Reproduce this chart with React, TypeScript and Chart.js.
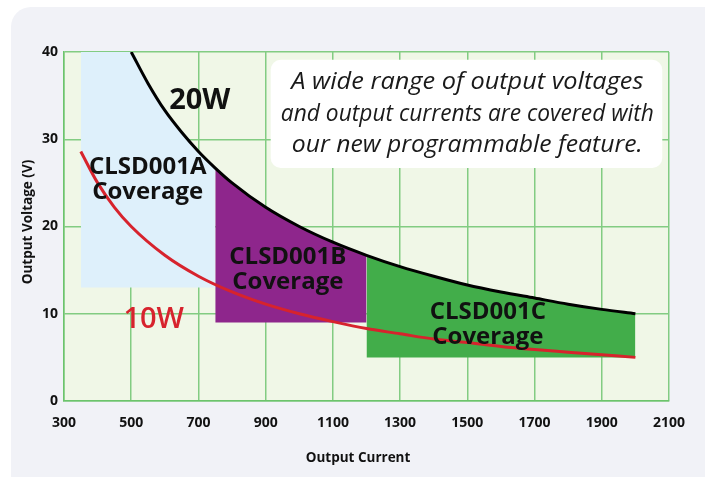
import React, { useEffect, useRef } from "react";
import { Chart, registerables } from "chart.js";

Chart.register(...registerables);

// Power curves (Output Current in mA, Output Voltage in V)
const current20W = [500, 550, 600, 650, 700, 750, 800, 900, 1000, 1100, 1200, 1300, 1400, 1500, 1600, 1700, 1800, 1900, 2000];
const voltage20W = [40, 36.4, 33.3, 30.8, 28.6, 26.7, 25, 22.2, 20, 18.2, 16.7, 15.4, 14.3, 13.3, 12.5, 11.8, 11.1, 10.5, 10];
const current10W = [350, 400, 450, 500, 600, 700, 800, 900, 1000, 1100, 1200, 1300, 1400, 1500, 1600, 1700, 1800, 1900, 2000];
const voltage10W = [28.6, 25, 22.2, 20, 16.7, 14.3, 12.5, 11.1, 10, 9.1, 8.3, 7.7, 7.1, 6.7, 6.25, 5.9, 5.6, 5.3, 5];

// Coverage regions
const coverageNames = ["CLSD001A", "CLSD001B", "CLSD001C"];
const coverageStart = [350, 750, 1200];
const coverageEnd = [750, 1200, 2000];
const coverageFloor = [13, 9, 5];
const coverageCeiling = 40;
const coverageColors = ["#def0fb", "#8e268c", "#42ad4a"];

// Axis ticks
const xTicks = [300, 500, 700, 900, 1100, 1300, 1500, 1700, 1900, 2100];
const yTicks = [0, 10, 20, 30, 40];

const noteLines = [
  "A wide range of output voltages",
  "and output currents are covered with",
  "our new programmable feature.",
];
const noteLineWidths = [352, 373, 351];

function regionPoints(i: number) {
  const pts: { x: number; y: number }[] = [];
  const s = coverageStart[i];
  const e = coverageEnd[i];
  if (s < current20W[0]) pts.push({ x: s, y: coverageCeiling });
  current20W.forEach((c, k) => {
    if (c >= s && c <= e) pts.push({ x: c, y: Math.min(coverageCeiling, voltage20W[k]) });
  });
  return pts;
}

const decorPlugin = {
  id: "decor",
  beforeDraw(chart: any) {
    const { ctx, chartArea } = chart;
    ctx.save();
    ctx.fillStyle = "#ffffff";
    ctx.fillRect(0, 0, chart.width, chart.height);
    ctx.fillStyle = "#f1f2f7";
    ctx.beginPath();
    ctx.roundRect(11, 7, chart.width + 20, chart.height + 20, 20);
    ctx.fill();
    ctx.fillStyle = "#f0f7e7";
    ctx.fillRect(chartArea.left, chartArea.top, chartArea.right - chartArea.left, chartArea.bottom - chartArea.top);
    ctx.restore();
  },
  beforeDatasetsDraw(chart: any) {
    const { ctx } = chart;
    const xs = chart.scales.x;
    const ys = chart.scales.y;
    const x0 = xs.getPixelForValue(915);
    const x1 = xs.getPixelForValue(2080);
    const y0 = ys.getPixelForValue(39.1);
    const y1 = ys.getPixelForValue(26.7);
    ctx.save();
    ctx.fillStyle = "#ffffff";
    ctx.beginPath();
    ctx.roundRect(x0, y0, x1 - x0, y1 - y0, 10);
    ctx.fill();
    ctx.restore();
  },
  afterDatasetsDraw(chart: any) {
    const { ctx } = chart;
    const xs = chart.scales.x;
    const ys = chart.scales.y;
    const px = (v: number) => xs.getPixelForValue(v);
    const py = (v: number) => ys.getPixelForValue(v);
    ctx.save();
    ctx.textAlign = "center";
    ctx.textBaseline = "middle";

    // note text
    ctx.fillStyle = "#1a1a1a";
    ctx.font = "italic 24px 'Open Sans'";
    const cx = px(1500);
    const cy = (py(39.1) + py(26.7)) / 2;
    noteLines.forEach((t, i) => {
      const w = ctx.measureText(t).width;
      const k = noteLineWidths[i] / w;
      ctx.save();
      ctx.translate(cx, cy + (i - 1) * 31.7);
      ctx.scale(k, 1);
      ctx.fillText(t, 0, 0);
      ctx.restore();
    });

    // power labels
    ctx.fillStyle = "#111111";
    ctx.font = "bold 29px 'Open Sans'";
    ctx.fillText("20W", px(704), py(34.4));
    ctx.fillStyle = "#d7232d";
    ctx.font = "600 29px 'Open Sans'";
    ctx.fillText("10W", px(567), py(9.3));

    // coverage labels
    const labelPos = [
      [549, 25.4],
      [966, 15.1],
      [1561, 8.7],
    ];
    ctx.fillStyle = "#111111";
    ctx.font = "bold 24px 'Open Sans'";
    coverageNames.forEach((n, i) => {
      const lx = px(labelPos[i][0]);
      const ly = py(labelPos[i][1]);
      ctx.fillText(n, lx, ly - 12.5);
      ctx.fillText("Coverage", lx, ly + 12.5);
    });

    // axis titles
    ctx.font = "bold 13.5px 'Open Sans'";
    ctx.fillStyle = "#111111";
    ctx.fillText("Output Current", 358, 458);
    ctx.translate(28, 222);
    ctx.rotate(-Math.PI / 2);
    ctx.fillText("Output Voltage (V)", 0, 0);
    ctx.restore();
  },
};

export default function App() {
  const ref = useRef<HTMLCanvasElement | null>(null);
  useEffect(() => {
    if (!ref.current) return;
    const regionDatasets = coverageNames.map((n, i) => ({
      label: n,
      data: regionPoints(i),
      borderWidth: 0,
      borderColor: "rgba(0,0,0,0)",
      backgroundColor: coverageColors[i],
      fill: { value: coverageFloor[i] },
      pointRadius: 0,
      cubicInterpolationMode: "monotone" as const,
      order: 3,
    }));
    const chart = new Chart(ref.current, {
      type: "line",
      data: {
        datasets: [
          ...regionDatasets,
          {
            label: "10W",
            data: current10W.map((c, i) => ({ x: c, y: voltage10W[i] })),
            borderColor: "#d7232d",
            borderWidth: 3,
            pointRadius: 0,
            fill: false,
            cubicInterpolationMode: "monotone",
            order: 2,
          },
          {
            label: "20W",
            data: current20W.map((c, i) => ({ x: c, y: voltage20W[i] })),
            borderColor: "#000000",
            borderWidth: 3,
            pointRadius: 0,
            fill: false,
            cubicInterpolationMode: "monotone",
            order: 1,
          },
        ] as any,
      },
      options: {
        animation: false,
        responsive: false,
        layout: { padding: { top: 52, right: 36, left: 0, bottom: 0 } },
        plugins: { legend: { display: false }, tooltip: { enabled: false }, title: { display: false } },
        scales: {
          x: {
            type: "linear",
            min: 300,
            max: 2100,
            afterBuildTicks: (s: any) => {
              s.ticks = xTicks.map((v) => ({ value: v }));
            },
            afterFit: (s: any) => {
              s.height = 76;
            },
            ticks: {
              padding: 14,
              color: "#111111",
              font: { family: "'Open Sans'", size: 14, weight: "bold" },
              maxRotation: 0,
              callback: (v: any) => String(v),
            },
            grid: { color: "#82cc82", lineWidth: 1.5, drawTicks: false },
            border: { display: true, color: "#6cc46c", width: 1.5 },
          },
          y: {
            type: "linear",
            min: 0,
            max: 40,
            afterBuildTicks: (s: any) => {
              s.ticks = yTicks.map((v) => ({ value: v }));
            },
            afterFit: (s: any) => {
              s.width = 64;
            },
            ticks: {
              padding: 6,
              color: "#111111",
              font: { family: "'Open Sans'", size: 14, weight: "bold" },
              callback: (v: any) => String(v),
            },
            grid: { color: "#82cc82", lineWidth: 1.5, drawTicks: false },
            border: { display: true, color: "#6cc46c", width: 1.5 },
          },
        },
      },
      plugins: [decorPlugin],
    });
    return () => chart.destroy();
  }, []);
  return (
    <div style={{ position: "fixed", left: 0, top: 0, width: 705, height: 477 }}>
      <canvas ref={ref} width={705} height={477} style={{ display: "block" }} />
    </div>
  );
}
